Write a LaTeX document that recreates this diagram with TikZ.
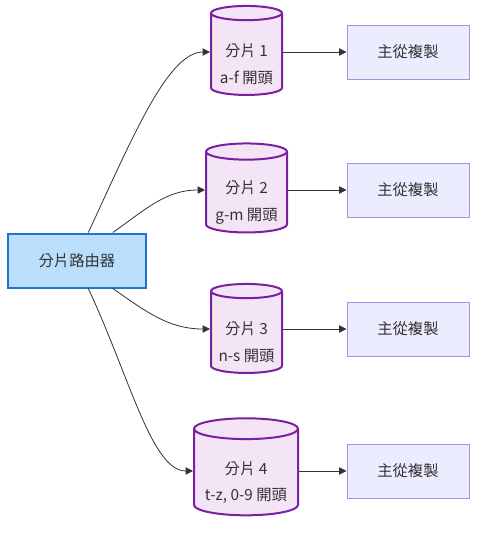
\documentclass[tikz,border=0pt]{standalone}
\usepackage{fontspec}
\setmainfont{Noto Sans CJK TC}
\usetikzlibrary{arrows.meta, positioning, shapes.geometric}
\definecolor{routerfill}{HTML}{BBDEFB}
\definecolor{routerline}{HTML}{1E74CF}
\definecolor{shardfill}{HTML}{F3E5F5}
\definecolor{shardline}{HTML}{7B1FA2}
\definecolor{replfill}{HTML}{ECECFF}
\definecolor{replline}{HTML}{A68FE6}
\definecolor{ink}{HTML}{333333}
\tikzset{
  router/.style={draw=routerline, fill=routerfill, line width=1.5pt, text=ink,
    minimum width=103.5pt, minimum height=40.5pt, font=\fontsize{11.5}{14}\selectfont},
  shard/.style={cylinder, shape border rotate=90, aspect=0.2, draw=shardline, fill=shardfill,
    line width=1.5pt, inner sep=0pt, minimum height=66.75pt, text width=#1},
  shardtext/.style={align=center, text=ink, yshift=-7.5pt, font=\fontsize{11.5}{20}\selectfont},
  repl/.style={draw=replline, fill=replfill, line width=0.75pt, text=ink,
    minimum width=91.5pt, minimum height=40.5pt, font=\fontsize{11.5}{14}\selectfont},
  link/.style={draw=ink, line width=0.6pt, -{Triangle[length=5.5pt, width=5.5pt]}}
}
\begin{document}
\begin{tikzpicture}[x=0.75pt, y=-0.75pt]
  \useasboundingbox (0,0) rectangle (485,537);
  % router
  \node[router] (router) at (77,260.5) {分片路由器};
  % shards
  \node[shard=53.25pt, label={[shardtext]center:{分片 1\\a-f 開頭}}] (shard1) at (246.5,54.5) {};
  \node[shard=60.75pt, label={[shardtext]center:{分片 2\\g-m 開頭}}] (shard2) at (246.5,192.5) {};
  \node[shard=53.25pt, label={[shardtext]center:{分片 3\\n-s 開頭}}] (shard3) at (246.5,332.5) {};
  \node[shard=78pt, minimum height=72.75pt,
    label={[shardtext]center:{分片 4\\t-z, 0-9 開頭}}] (shard4) at (246,472.5) {};
  % replication
  \foreach \i/\y in {1/52, 2/190, 3/329, 4/471} {
    \node[repl] (repl\i) at (408,\y) {主從複製};
    \draw[link] (shard\i.east |- repl\i) -- (repl\i.west);
  }
  % router to shards
  \draw[link] (router.68) to[out=65, in=180, out looseness=1.2, in looseness=0.5] (shard1.west |- repl1);
  \draw[link] (router.38) to[out=35, in=180] (shard2.west |- repl2);
  \draw[link] (router.-38) to[out=-35, in=180] (shard3.west |- repl3);
  \draw[link] (router.-68) to[out=-65, in=180, out looseness=1.2, in looseness=0.5] (shard4.west |- repl4);
\end{tikzpicture}
\end{document}
